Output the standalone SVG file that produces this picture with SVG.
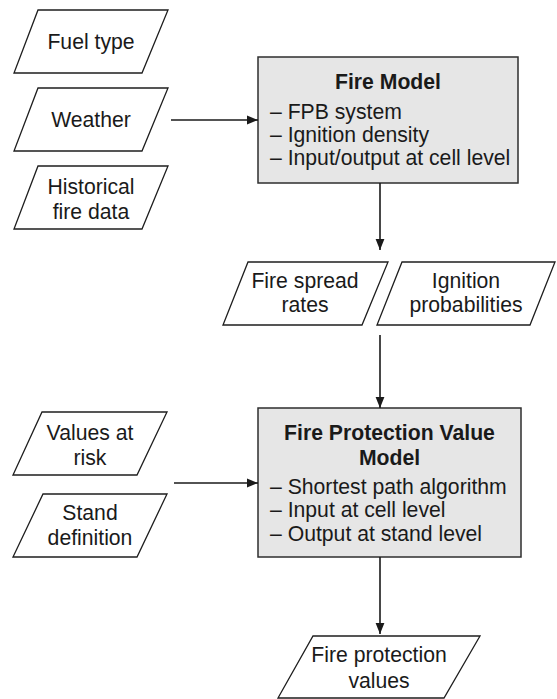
<svg xmlns="http://www.w3.org/2000/svg" width="557" height="699" viewBox="0 0 557 699">
<style>
.p{fill:#fff;stroke:#1e1e1e;stroke-width:1.3}
.b{fill:#e6e6e6;stroke:#2e2e2e;stroke-width:1.5}
text{font-family:"Liberation Sans",Arial,sans-serif;font-size:21.2px;fill:#1a1a1a}
.c{text-anchor:middle}
.t{font-weight:bold;text-anchor:middle}
.l{stroke:#1a1a1a;stroke-width:1.6;fill:none}
</style>
<defs>
<marker id="ah" viewBox="0 0 10 10" refX="10" refY="5" markerWidth="11" markerHeight="11" markerUnits="userSpaceOnUse" orient="auto">
<path d="M0,1 L10,5 L0,9 Z" fill="#1a1a1a"/>
</marker>
</defs>
<g id="fuel-type">
<polygon class="p" points="38,10 168,10 142,73 14,73"/>
<text class="c" x="91" y="49">Fuel type</text>
</g>
<g id="weather">
<polygon class="p" points="38,88 168,88 142,151 14,151"/>
<text class="c" x="91" y="127">Weather</text>
</g>
<g id="historical">
<polygon class="p" points="38,166 168,166 142,229 14,229"/>
<text class="c" x="91" y="194">Historical</text>
<text class="c" x="91" y="219">fire data</text>
</g>
<g id="fire-model">
<rect class="b" x="258" y="57" width="260" height="126"/>
<text class="t" x="388" y="89">Fire Model</text>
<text x="270" y="119">– FPB system</text>
<text x="270" y="142">– Ignition density</text>
<text x="270" y="165">– Input/output at cell level</text>
</g>
<g id="fire-spread">
<polygon class="p" points="248,262 388,262 362,325 223,325"/>
<text class="c" x="305" y="288">Fire spread</text>
<text class="c" x="305" y="312">rates</text>
</g>
<g id="ignition">
<polygon class="p" points="402,262 555,262 530,325 377,325"/>
<text class="c" x="466" y="288">Ignition</text>
<text class="c" x="466" y="312">probabilities</text>
</g>
<g id="values-at-risk">
<polygon class="p" points="42,412 167,412 137,475 13,475"/>
<text class="c" x="90" y="440">Values at</text>
<text class="c" x="90" y="465">risk</text>
</g>
<g id="stand-definition">
<polygon class="p" points="43,494 167,494 137,557 13,557"/>
<text class="c" x="90" y="520">Stand</text>
<text class="c" x="90" y="545">definition</text>
</g>
<g id="fpv-model">
<rect class="b" x="258" y="408" width="263" height="149"/>
<text class="t" x="389.5" y="440">Fire Protection Value</text>
<text class="t" x="389.5" y="465">Model</text>
<text x="270" y="494">– Shortest path algorithm</text>
<text x="270" y="517">– Input at cell level</text>
<text x="270" y="541">– Output at stand level</text>
</g>
<g id="fire-protection-values">
<polygon class="p" points="313,636 480,636 444,698 278,698"/>
<text class="c" x="379" y="662">Fire protection</text>
<text class="c" x="379" y="688">values</text>
</g>
<g id="connectors">
<line class="l" x1="171" y1="120" x2="258" y2="120" marker-end="url(#ah)"/>
<line class="l" x1="380" y1="183" x2="380" y2="250" marker-end="url(#ah)"/>
<line class="l" x1="380" y1="335" x2="380" y2="408" marker-end="url(#ah)"/>
<line class="l" x1="174" y1="483" x2="258" y2="483" marker-end="url(#ah)"/>
<line class="l" x1="380" y1="557" x2="380" y2="634" marker-end="url(#ah)"/>
</g>
</svg>
